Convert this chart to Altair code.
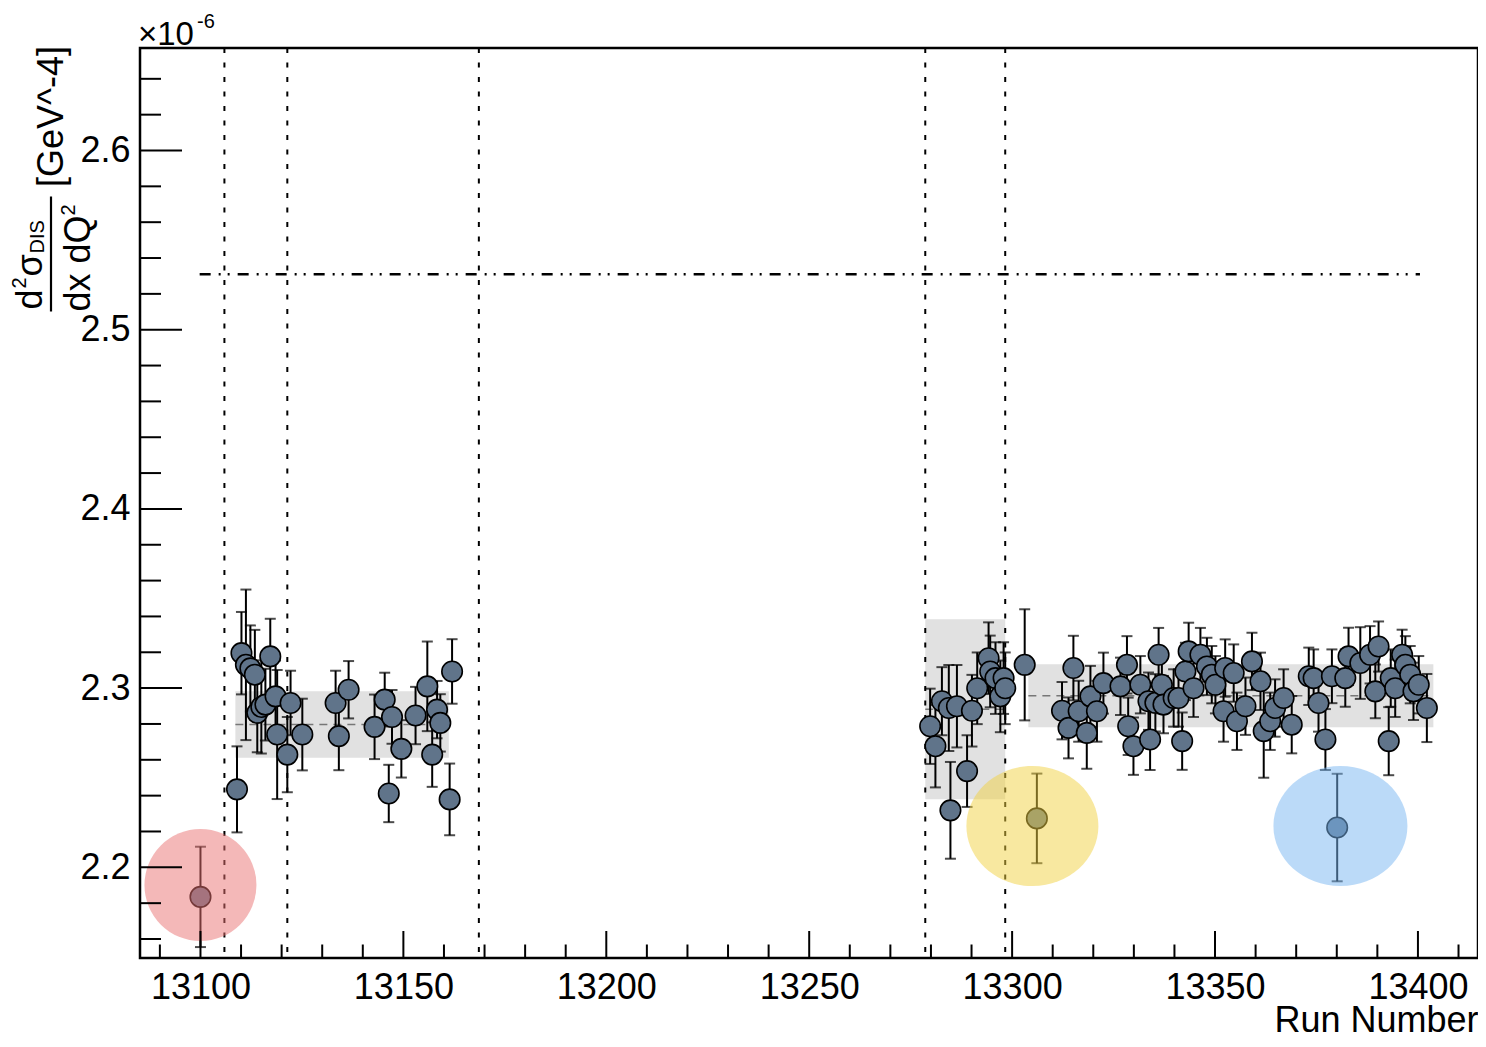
import altair as alt
import pandas as pd

FONT = "Liberation Sans"
W, H = 1338, 910
X_DOMAIN = [13085.1, 13414.8]
Y_DOMAIN = [2.1494, 2.6572]

# ---- measurements (units of 1e-6 GeV^-4) ----
runs = [
    13100.0,
    13109.0, 13110.1, 13111.2, 13112.3, 13113.4, 13114.0, 13115.0, 13116.0, 13117.2, 13118.5,
    13118.9, 13121.4, 13122.2, 13125.1, 13133.3, 13134.1, 13136.5, 13142.9, 13145.4, 13146.4,
    13147.2, 13149.5, 13153.0, 13155.9, 13157.1, 13158.3, 13159.1, 13161.4, 13162.0,
    13279.8, 13281.1, 13282.7, 13284.4, 13284.8, 13286.4, 13288.9, 13290.1, 13291.4, 13294.2,
    13294.6, 13295.9, 13297.1, 13297.9, 13298.3,
    13303.1, 13306.1, 13312.3, 13313.9, 13315.1, 13316.4, 13318.4, 13319.3, 13320.9, 13322.5,
    13326.7, 13328.3, 13328.6, 13329.9, 13331.6, 13333.6, 13334.0, 13335.3, 13336.1, 13336.9,
    13337.3, 13339.8, 13341.0, 13341.9, 13342.7, 13343.5, 13344.7, 13346.4, 13348.0, 13349.2,
    13350.1, 13352.1, 13352.5, 13354.6, 13355.4, 13357.5, 13359.1, 13361.2, 13362.0, 13363.6,
    13364.8, 13366.9, 13368.9, 13373.1, 13374.3, 13375.5, 13377.2, 13378.8, 13380.1, 13382.1,
    13382.9, 13385.8, 13388.2, 13389.5, 13390.3, 13392.8, 13393.3, 13394.4, 13396.1, 13396.9,
    13398.1, 13398.9, 13400.2, 13402.2,
]
vals = [
    2.1835,
    2.2435, 2.3195, 2.3130, 2.3110, 2.3075, 2.2862, 2.2895, 2.2908, 2.3177, 2.2954,
    2.2741, 2.2629, 2.2917, 2.2741, 2.2917, 2.2732, 2.2991, 2.2784, 2.2936, 2.2412,
    2.2839, 2.2661, 2.2847, 2.3010, 2.2629, 2.2880, 2.2806, 2.2379, 2.3093,
    2.2787, 2.2676, 2.2927, 2.2889, 2.2318, 2.2899, 2.2537, 2.2874, 2.2999, 2.3167,
    2.3093, 2.3056, 2.2954, 2.3056, 2.2999,
    2.3130, 2.2273, 2.2874, 2.2778, 2.3112, 2.2871, 2.2750, 2.2954, 2.2871, 2.3028,
    2.3010, 2.3130, 2.2787, 2.2676, 2.3019, 2.2927, 2.2713, 2.2918, 2.3186, 2.3019,
    2.2908, 2.2945, 2.2945, 2.2704, 2.3093, 2.3205, 2.2999, 2.3186, 2.3121, 2.3075,
    2.3019, 2.2871, 2.3112, 2.3084, 2.2815, 2.2899, 2.3149, 2.3038, 2.2760, 2.2815,
    2.2889, 2.2945, 2.2796, 2.3066, 2.3056, 2.2917, 2.2713, 2.3066, 2.2222, 2.3056,
    2.3177, 2.3140, 2.3186, 2.2982, 2.3232, 2.2704, 2.3056, 2.2999, 2.3186, 2.3130,
    2.3075, 2.2982, 2.3019, 2.2889,
]
errs = [
    0.028,
    0.024, 0.023, 0.042, 0.024, 0.025, 0.022, 0.026, 0.020, 0.021, 0.020,
    0.036, 0.021, 0.018, 0.020, 0.018, 0.019, 0.016, 0.018, 0.015, 0.016,
    0.015, 0.016, 0.016, 0.025, 0.018, 0.016, 0.016, 0.020, 0.018,
    0.021, 0.023, 0.019, 0.024, 0.027, 0.023, 0.020, 0.020, 0.020, 0.020,
    0.020, 0.020, 0.020, 0.020, 0.020,
    0.031, 0.025, 0.016, 0.017, 0.018, 0.017, 0.020, 0.017, 0.017, 0.017,
    0.016, 0.016, 0.016, 0.016, 0.016, 0.016, 0.017, 0.016, 0.015, 0.016,
    0.016, 0.016, 0.016, 0.016, 0.016, 0.016, 0.016, 0.015, 0.016, 0.016,
    0.016, 0.017, 0.016, 0.016, 0.016, 0.016, 0.016, 0.016, 0.026, 0.016,
    0.016, 0.016, 0.016, 0.016, 0.016, 0.016, 0.017, 0.015, 0.030, 0.016,
    0.016, 0.020, 0.016, 0.015, 0.014, 0.019, 0.016, 0.016, 0.014, 0.016,
    0.016, 0.016, 0.016, 0.019,
]

# group averages (shaded bands)
band_start = [13108.6, 13278.6, 13304.0]
band_end = [13161.2, 13298.3, 13403.8]
band_mean = [2.2797, 2.2882, 2.2957]
band_half = [0.0186, 0.0502, 0.0176]

# run-period boundaries and reference value
boundaries = [13105.9, 13121.4, 13168.6, 13278.6, 13298.3]
ref_value = [2.531]
ref_start = [13099.8]
ref_end = [13400.5]

# highlighted runs
hl_run = [13100.0, 13305.0, 13380.9]
hl_val = [2.1901, 2.2230, 2.2230]

# axis ticks
x_major = [13100, 13150, 13200, 13250, 13300, 13350, 13400]
x_minor = [13090, 13110, 13120, 13130, 13140, 13160, 13170, 13180, 13190, 13210, 13220,
           13230, 13240, 13260, 13270, 13280, 13290, 13310, 13320, 13330, 13340, 13360,
           13370, 13380, 13390, 13410]
y_major = [2.2, 2.3, 2.4, 2.5, 2.6]
y_minor = [2.16, 2.18, 2.22, 2.24, 2.26, 2.28, 2.32, 2.34, 2.36, 2.38, 2.42, 2.44, 2.46,
           2.48, 2.52, 2.54, 2.56, 2.58, 2.62, 2.64]

# ---- tables ----
pts = pd.DataFrame({"run": runs, "val": vals, "err": errs})
pts["lo"] = pts["val"] - pts["err"]
pts["hi"] = pts["val"] + pts["err"]
bands = pd.DataFrame({"run": band_start, "run2": band_end, "val": band_mean, "half": band_half})
bands["lo"] = bands["val"] - bands["half"]
bands["hi"] = bands["val"] + bands["half"]
bnd = pd.DataFrame({"run": boundaries})
ref = pd.DataFrame({"run": ref_start, "run2": ref_end, "val": ref_value})

XS = alt.Scale(domain=X_DOMAIN, nice=False, zero=False)
YS = alt.Scale(domain=Y_DOMAIN, nice=False, zero=False)
AX = alt.Axis(values=x_major, format="d", labelFontSize=36, labelFont=FONT, labelColor="black",
              labelPadding=12, ticks=False, domain=False, grid=False, labelFlush=False,
              labelOverlap=False, title="Run Number", titleFont=FONT, titleFontSize=36,
              titleFontWeight="normal", titleColor="black", titleAlign="right",
              titleBaseline="alphabetic", titleAnchor="end", titleX=W, titleY=73, titleAngle=0)
AY = alt.Axis(values=y_major, format=".1f", labelFontSize=36, labelFont=FONT, labelColor="black",
              labelPadding=10, ticks=False, domain=False, grid=False, labelFlush=False,
              labelOverlap=False, title="")


def X(f):
    return alt.X(f, type="quantitative", scale=XS, axis=AX)


def Y(f):
    return alt.Y(f, type="quantitative", scale=YS, axis=AY)


band_layer = alt.Chart(bands).mark_rect(fill="#b8b8b8", opacity=0.42).encode(
    x=X("run"), x2="run2", y=Y("lo"), y2="hi")
mean_layer = alt.Chart(bands).mark_rule(color="#777777", strokeWidth=1.5, strokeDash=[8, 6]).encode(
    x=X("run"), x2="run2", y=Y("val"))
bnd_layer = alt.Chart(bnd).mark_rule(color="black", strokeWidth=2, strokeDash=[5, 9.5]).encode(
    x=X("run"))
ref_layer = alt.Chart(ref).mark_rule(color="black", strokeWidth=2.5,
                                     strokeDash=[11, 8, 2, 7, 2, 8]).encode(
    x=X("run"), x2="run2", y=Y("val"))
err_layer = alt.Chart(pts).mark_rule(color="black", strokeWidth=2).encode(
    x=X("run"), y=Y("lo"), y2="hi")
cap_lo = alt.Chart(pts).mark_tick(orient="horizontal", size=11, thickness=2, color="black").encode(
    x=X("run"), y=Y("lo"))
cap_hi = alt.Chart(pts).mark_tick(orient="horizontal", size=11, thickness=2, color="black").encode(
    x=X("run"), y=Y("hi"))
pt_layer = alt.Chart(pts).mark_point(shape="circle", filled=True, size=420, fill="#60748a",
                                     stroke="black", strokeWidth=1.6, opacity=1).encode(
    x=X("run"), y=Y("val"))


def ellipse_path(r):
    k = 0.5523
    return (f"M-1,0C-1,{-k*r:.4f},{-k:.4f},{-r:.4f},0,{-r:.4f}"
            f"C{k:.4f},{-r:.4f},1,{-k*r:.4f},1,0"
            f"C1,{k*r:.4f},{k:.4f},{r:.4f},0,{r:.4f}"
            f"C{-k:.4f},{r:.4f},-1,{k*r:.4f},-1,0Z")


hl_df = [pd.DataFrame({"run": [hl_run[i]], "val": [hl_val[i]]}) for i in range(3)]
hl_red = alt.Chart(hl_df[0]).mark_point(shape="circle", filled=True, size=112 * 112,
                                        fill="#e97171", opacity=0.5, strokeWidth=0).encode(
    x=X("run"), y=Y("val"))
hl_yel = alt.Chart(hl_df[1]).mark_point(shape=ellipse_path(60 / 66), filled=True, size=132 * 132,
                                        fill="#f1d141", opacity=0.5, strokeWidth=0).encode(
    x=X("run"), y=Y("val"))
hl_blu = alt.Chart(hl_df[2]).mark_point(shape=ellipse_path(60 / 67), filled=True, size=134 * 134,
                                        fill="#77b5f1", opacity=0.5, strokeWidth=0).encode(
    x=X("run"), y=Y("val"))

# inward ticks (ROOT style)
xmaj = alt.Chart(pd.DataFrame({"run": x_major})).mark_rule(color="black", strokeWidth=2).encode(
    x=X("run"), y=alt.value(H), y2=alt.value(H - 27))
xmin = alt.Chart(pd.DataFrame({"run": x_minor})).mark_rule(color="black", strokeWidth=2).encode(
    x=X("run"), y=alt.value(H), y2=alt.value(H - 13.5))
ymaj = alt.Chart(pd.DataFrame({"val": y_major})).mark_rule(color="black", strokeWidth=2).encode(
    y=Y("val"), x=alt.value(0), x2=alt.value(42))
ymin = alt.Chart(pd.DataFrame({"val": y_minor})).mark_rule(color="black", strokeWidth=2).encode(
    y=Y("val"), x=alt.value(0), x2=alt.value(21))


def label(text, x, y, size, angle=0, align="left", baseline="alphabetic"):
    kw = dict(font=FONT, fontSize=size, color="black", align=align, baseline=baseline)
    if angle:
        kw["angle"] = angle
    return alt.Chart(pd.DataFrame({"t": [text]})).mark_text(**kw).encode(
        text="t:N", x=alt.value(x), y=alt.value(y))


texts = [
    label("×10", -2, -3, 33),
    label("-6", 57, -20, 20),
    label("[GeV^-4]", -77, 68.5, 36, angle=270, align="center"),
    label("d", -98, 261.5, 36, angle=270),
    label("2", -114, 240.5, 20, angle=270),
    label("σ", -98, 228.5, 36, angle=270),
    label("DIS", -96, 205.5, 20, angle=270),
    label("dx dQ", -50, 263.5, 36, angle=270),
    label("2", -65, 167.5, 20, angle=270),
]
frac_bar = alt.Chart(pd.DataFrame({"t": [0]})).mark_rule(color="black", strokeWidth=2.2).encode(
    x=alt.value(-89), y=alt.value(148.5), y2=alt.value(263.5))

chart = alt.layer(
    band_layer, mean_layer, bnd_layer, ref_layer, err_layer, cap_lo, cap_hi, pt_layer,
    hl_red, hl_yel, hl_blu, xmaj, xmin, ymaj, ymin, frac_bar, *texts
).properties(
    width=W, height=H,
    autosize=alt.AutoSizeParams(type="none"),
    padding={"left": 132, "top": 40, "right": 0, "bottom": 81},
).configure(
    background="white",
    view=alt.ViewConfig(stroke="black", strokeWidth=2.5),
)

chart.save("out.html", embed_options={"renderer": "svg", "actions": False})
